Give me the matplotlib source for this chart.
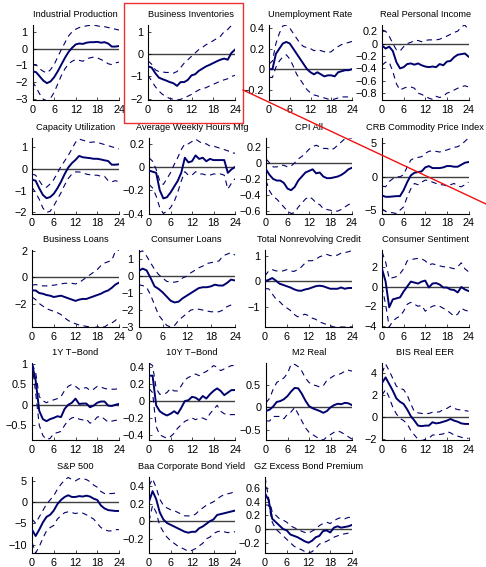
import matplotlib
matplotlib.use("Agg")
import matplotlib.pyplot as plt
from matplotlib.ticker import FuncFormatter
from matplotlib.lines import Line2D
from matplotlib.patches import Rectangle
import numpy as np

plt.rcParams['font.family'] = ['Liberation Sans', 'DejaVu Sans']

horizon = np.arange(25)
xticks = [0, 6, 12, 18, 24]

titles = ["Industrial Production", "Business Inventories", "Unemployment Rate", "Real Personal Income",
          "Capacity Utilization", "Average Weekly Hours Mfg", "CPI All", "CRB Commodity Price Index",
          "Business Loans", "Consumer Loans", "Total Nonrevolving Credit", "Consumer Sentiment",
          "1Y T\u2212Bond", "10Y T\u2212Bond", "M2 Real", "BIS Real EER",
          "S&P 500", "Baa Corporate Bond Yield", "GZ Excess Bond Premium"]

# impulse responses: median and upper / lower bands
ip_mid = [-1.35, -1.4, -1.65, -1.9, -2.05, -1.95, -1.7, -1.35, -0.95, -0.55, -0.2, 0.05, 0.25, 0.3, 0.28, 0.35, 0.38, 0.38, 0.4, 0.35, 0.38, 0.3, 0.12, 0.12, 0.15]
ip_hi = [-0.95, -0.95, -1.2, -1.35, -1.45, -1.25, -0.95, -0.5, -0.05, 0.35, 0.75, 1.0, 1.15, 1.25, 1.3, 1.35, 1.38, 1.4, 1.35, 1.3, 1.3, 1.25, 1.2, 1.15, 1.1]
ip_lo = [-1.95, -2.3, -2.7, -3.0, -3.1, -2.95, -2.6, -2.1, -1.6, -1.2, -0.9, -0.75, -0.65, -0.7, -0.75, -0.6, -0.55, -0.5, -0.55, -0.65, -0.75, -0.9, -0.95, -0.85, -0.8]

bi_mid = [-0.55, -0.6, -0.85, -1.05, -1.12, -1.18, -1.25, -1.3, -1.42, -1.25, -1.25, -1.15, -0.95, -0.9, -0.75, -0.65, -0.55, -0.48, -0.4, -0.32, -0.25, -0.2, -0.25, 0.05, 0.2]
bi_hi = [-0.3, -0.45, -0.7, -0.78, -0.8, -0.82, -0.82, -0.85, -0.78, -0.6, -0.4, -0.25, -0.1, 0.05, 0.2, 0.3, 0.42, 0.5, 0.6, 0.7, 0.8, 1.0, 1.1, 1.28, 1.3]
bi_lo = [-0.95, -1.2, -1.45, -1.65, -1.8, -1.9, -1.98, -2.02, -2.05, -2.02, -1.95, -1.88, -1.8, -1.7, -1.6, -1.55, -1.5, -1.42, -1.35, -1.28, -1.2, -1.15, -1.1, -1.0, -0.95]

ur_mid = [0.0, 0.0, 0.15, 0.2, 0.25, 0.265, 0.25, 0.2, 0.15, 0.1, 0.05, 0.0, -0.03, -0.05, -0.03, -0.05, -0.07, -0.06, -0.06, -0.07, -0.03, -0.02, -0.01, -0.01, 0.0]
ur_hi = [0.05, 0.08, 0.25, 0.35, 0.42, 0.43, 0.4, 0.35, 0.3, 0.25, 0.22, 0.21, 0.2, 0.18, 0.19, 0.18, 0.17, 0.16, 0.17, 0.2, 0.22, 0.24, 0.25, 0.26, 0.27]
ur_lo = [-0.08, -0.08, 0.02, 0.08, 0.12, 0.14, 0.1, 0.03, -0.05, -0.1, -0.15, -0.2, -0.23, -0.25, -0.26, -0.27, -0.28, -0.29, -0.3, -0.29, -0.28, -0.27, -0.27, -0.27, -0.27]

rpi_mid = [-0.03, -0.08, -0.05, -0.12, -0.3, -0.4, -0.38, -0.33, -0.32, -0.34, -0.32, -0.35, -0.37, -0.38, -0.37, -0.38, -0.33, -0.35, -0.29, -0.28, -0.22, -0.18, -0.17, -0.16, -0.21]
rpi_hi = [0.22, 0.2, 0.12, 0.0, -0.1, -0.12, -0.05, 0.0, 0.02, 0.05, 0.05, 0.03, 0.05, 0.06, 0.06, 0.06, 0.07, 0.1, 0.12, 0.15, 0.18, 0.2, 0.27, 0.3, 0.22]
rpi_lo = [-0.35, -0.3, -0.3, -0.45, -0.65, -0.75, -0.72, -0.7, -0.7, -0.72, -0.8, -0.82, -0.85, -0.88, -0.9, -0.85, -0.87, -0.85, -0.8, -0.78, -0.75, -0.72, -0.7, -0.68, -0.7]

cu_mid = [-0.5, -0.55, -0.9, -1.2, -1.35, -1.3, -1.15, -0.9, -0.6, -0.25, 0.05, 0.25, 0.4, 0.58, 0.52, 0.5, 0.48, 0.45, 0.45, 0.42, 0.38, 0.35, 0.18, 0.18, 0.2]
cu_hi = [-0.25, -0.3, -0.55, -0.8, -0.85, -0.7, -0.5, -0.2, 0.1, 0.35, 0.6, 0.9, 1.2, 1.35, 1.3, 1.25, 1.2, 1.22, 1.2, 1.15, 1.1, 1.05, 1.0, 0.95, 0.9]
cu_lo = [-0.85, -1.1, -1.4, -1.8, -2.0, -1.95, -1.7, -1.4, -1.1, -0.75, -0.45, -0.25, -0.15, -0.15, -0.2, -0.25, -0.28, -0.3, -0.3, -0.35, -0.35, -0.55, -0.6, -0.55, -0.6]

awh_mid = [-0.03, -0.04, -0.05, -0.2, -0.27, -0.26, -0.22, -0.17, -0.12, -0.05, 0.08, 0.04, 0.05, 0.1, 0.07, 0.08, 0.05, 0.07, 0.06, 0.06, 0.06, 0.06, -0.05, -0.02, 0.0]
awh_hi = [0.08, 0.05, -0.02, -0.12, -0.15, -0.1, -0.05, 0.02, 0.08, 0.15, 0.2, 0.2, 0.22, 0.24, 0.22, 0.2, 0.2, 0.18, 0.18, 0.17, 0.16, 0.15, 0.14, 0.12, 0.12]
awh_lo = [-0.15, -0.18, -0.25, -0.35, -0.4, -0.38, -0.35, -0.3, -0.22, -0.12, -0.04, -0.07, -0.07, -0.04, -0.06, -0.06, -0.07, -0.07, -0.06, -0.06, -0.06, -0.07, -0.19, -0.14, -0.1]

cpi_mid = [-0.08, -0.15, -0.2, -0.22, -0.22, -0.25, -0.32, -0.34, -0.3, -0.22, -0.17, -0.12, -0.1, -0.08, -0.13, -0.12, -0.17, -0.19, -0.19, -0.18, -0.17, -0.15, -0.12, -0.08, -0.06]
cpi_hi = [0.05, 0.0, -0.05, -0.05, -0.03, -0.03, -0.05, -0.04, 0.0, 0.05, 0.08, 0.12, 0.17, 0.2, 0.22, 0.2, 0.18, 0.18, 0.16, 0.18, 0.22, 0.26, 0.3, 0.31, 0.31]
cpi_lo = [-0.22, -0.35, -0.42, -0.45, -0.5, -0.55, -0.6, -0.63, -0.62, -0.55, -0.5, -0.45, -0.42, -0.45, -0.5, -0.52, -0.57, -0.58, -0.59, -0.6, -0.6, -0.58, -0.55, -0.52, -0.5]

crb_mid = [-2.8, -3.0, -3.0, -2.95, -2.9, -2.9, -2.0, -0.8, 0.2, 0.6, 0.7, 0.8, 1.4, 1.6, 1.3, 1.3, 1.3, 1.4, 1.6, 1.6, 1.5, 1.5, 1.8, 2.1, 2.2]
crb_hi = [-1.4, -1.5, -0.7, -0.3, 0.0, 0.0, 0.3, 1.5, 2.5, 2.8, 2.9, 3.0, 3.5, 3.8, 3.9, 3.8, 3.7, 3.9, 4.0, 4.2, 4.4, 4.5, 4.8, 5.3, 5.8]
crb_lo = [-4.8, -5.2, -5.3, -5.4, -5.5, -5.0, -4.5, -3.0, -1.8, -1.0, -1.2, -0.8, -0.5, -0.6, -0.8, -1.0, -1.2, -1.2, -1.4, -1.2, -1.0, -1.4, -1.5, -1.2, -0.8]

bl_mid = [-1.0, -1.0, -1.2, -1.25, -1.35, -1.4, -1.5, -1.45, -1.4, -1.5, -1.6, -1.7, -1.8, -1.7, -1.65, -1.65, -1.55, -1.45, -1.35, -1.25, -1.1, -1.0, -0.8, -0.55, -0.4]
bl_hi = [-0.6, -0.55, -0.6, -0.65, -0.65, -0.6, -0.6, -0.55, -0.5, -0.45, -0.45, -0.45, -0.5, -0.4, -0.2, 0.0, 0.2, 0.4, 0.6, 0.9, 1.1, 1.2, 1.3, 2.0, 2.1]
bl_lo = [-1.5, -1.7, -2.0, -2.2, -2.4, -2.5, -2.6, -2.7, -2.85, -3.1, -3.3, -3.45, -3.55, -3.65, -3.7, -3.75, -3.8, -3.85, -3.8, -3.75, -3.8, -3.6, -3.5, -3.3, -3.0]

cl_mid = [0.3, 0.45, 0.35, -0.1, -0.6, -0.75, -0.95, -1.2, -1.45, -1.55, -1.5, -1.3, -1.15, -1.0, -0.85, -0.7, -0.65, -0.65, -0.6, -0.5, -0.55, -0.55, -0.4, -0.2, -0.25]
cl_hi = [1.4, 1.5, 1.2, 0.8, 0.4, 0.1, -0.1, -0.3, -0.35, -0.35, -0.3, -0.1, 0.0, 0.2, 0.35, 0.5, 0.6, 0.75, 0.8, 0.85, 0.9, 1.2, 1.3, 1.4, 1.25]
cl_lo = [-0.5, -0.55, -0.65, -1.1, -1.7, -2.3, -2.6, -2.9, -3.0, -2.9, -2.6, -2.4, -2.2, -2.0, -1.95, -1.95, -2.0, -2.05, -2.1, -2.1, -2.1, -2.0, -1.8, -1.7, -1.6]

tnc_mid = [0.0, 0.05, 0.12, 0.02, -0.1, -0.15, -0.2, -0.25, -0.32, -0.37, -0.38, -0.33, -0.3, -0.25, -0.2, -0.18, -0.2, -0.25, -0.3, -0.3, -0.3, -0.25, -0.3, -0.27, -0.27]
tnc_hi = [0.2, 0.4, 0.45, 0.4, 0.4, 0.4, 0.45, 0.4, 0.38, 0.45, 0.55, 0.7, 0.8, 0.8, 0.85, 0.95, 1.0, 1.05, 1.0, 1.0, 1.02, 1.1, 1.12, 1.15, 1.2]
tnc_lo = [-0.3, -0.3, -0.5, -0.7, -0.8, -0.95, -1.05, -1.15, -1.3, -1.4, -1.35, -1.3, -1.35, -1.45, -1.5, -1.6, -1.65, -1.7, -1.75, -1.8, -1.8, -1.8, -1.8, -1.78, -1.8]

cs_mid = [1.8, 0.5, -2.1, -1.3, -1.2, -1.1, -0.5, 0.0, 0.5, 0.4, 0.3, 0.5, 0.6, -0.1, 0.3, 0.35, 0.2, -0.1, -0.1, -0.3, -0.35, -0.6, -0.05, -0.3, -0.45]
cs_hi = [3.5, 2.5, 0.8, 0.9, 1.0, 1.3, 1.8, 2.6, 2.7, 2.8, 2.85, 2.8, 2.6, 2.2, 2.3, 2.2, 2.1, 2.0, 2.0, 1.9, 1.8, 2.0, 2.4, 1.8, 1.5]
cs_lo = [0.0, -1.8, -4.1, -3.5, -3.2, -3.0, -2.5, -1.8, -1.6, -1.8, -2.0, -1.9, -2.5, -2.2, -2.0, -1.9, -2.0, -2.2, -2.4, -2.7, -3.0, -2.8, -2.2, -2.4, -2.5]

t1_mid = [1.0, 0.6, -0.15, -0.35, -0.4, -0.35, -0.32, -0.28, -0.3, -0.1, 0.0, 0.05, 0.15, 0.02, 0.03, 0.03, -0.06, -0.02, 0.05, 0.08, 0.08, -0.02, -0.03, 0.0, 0.02]
t1_hi = [1.0, 0.8, 0.2, 0.1, 0.05, 0.1, 0.12, 0.15, 0.2, 0.35, 0.45, 0.5, 0.45, 0.38, 0.4, 0.42, 0.35, 0.38, 0.45, 0.43, 0.4, 0.38, 0.38, 0.38, 0.4]
t1_lo = [1.0, 0.3, -0.5, -0.75, -0.85, -0.82, -0.7, -0.68, -0.65, -0.5, -0.38, -0.32, -0.3, -0.35, -0.37, -0.35, -0.45, -0.4, -0.3, -0.28, -0.35, -0.42, -0.4, -0.38, -0.38]

t10_mid = [0.3, 0.3, -0.05, -0.12, -0.15, -0.17, -0.15, -0.12, -0.15, -0.08, 0.0, 0.01, 0.05, 0.04, 0.01, 0.06, 0.03, 0.08, 0.12, 0.15, 0.12, 0.07, 0.1, 0.13, 0.13]
t10_hi = [0.45, 0.42, 0.15, 0.08, 0.08, 0.1, 0.15, 0.12, 0.12, 0.18, 0.25, 0.28, 0.3, 0.32, 0.3, 0.33, 0.35, 0.38, 0.42, 0.4, 0.36, 0.38, 0.4, 0.42, 0.42]
t10_lo = [0.15, 0.1, -0.3, -0.4, -0.42, -0.44, -0.42, -0.38, -0.32, -0.28, -0.24, -0.22, -0.2, -0.22, -0.2, -0.2, -0.22, -0.15, -0.1, -0.05, -0.12, -0.15, -0.16, -0.16, -0.16]

m2_mid = [-0.08, -0.05, 0.02, 0.12, 0.14, 0.18, 0.25, 0.35, 0.43, 0.42, 0.3, 0.15, 0.03, -0.02, -0.05, -0.08, -0.12, -0.08, 0.0, 0.05, 0.08, 0.07, 0.1, 0.09, 0.05]
m2_hi = [0.1, 0.2, 0.4, 0.55, 0.6, 0.65, 0.75, 0.95, 0.95, 0.9, 0.8, 0.65, 0.55, 0.5, 0.48, 0.45, 0.48, 0.6, 0.65, 0.7, 0.72, 0.75, 0.8, 0.82, 0.8]
m2_lo = [-0.3, -0.3, -0.2, -0.2, -0.2, -0.25, -0.15, -0.1, 0.0, -0.15, -0.3, -0.45, -0.55, -0.6, -0.65, -0.7, -0.72, -0.65, -0.6, -0.55, -0.52, -0.55, -0.6, -0.65, -0.7]

eer_mid = [3.1, 3.6, 3.0, 2.4, 1.7, 1.4, 1.2, 0.7, 0.1, -0.3, -0.75, -0.8, -0.75, -0.75, -0.45, -0.55, -0.5, -0.4, -0.3, -0.15, -0.3, -0.4, -0.55, -0.6, -0.6]
eer_hi = [4.0, 4.8, 4.2, 3.5, 2.8, 2.6, 2.5, 2.0, 1.2, 0.5, 0.4, 0.35, 0.3, 0.35, 0.45, 0.45, 0.5, 0.7, 0.8, 1.0, 0.8, 0.7, 0.65, 0.6, 0.55]
eer_lo = [2.0, 2.5, 1.8, 0.9, 0.3, -0.1, -0.3, -0.6, -1.2, -1.6, -2.0, -2.1, -2.0, -1.9, -1.6, -1.6, -1.55, -1.5, -1.3, -1.4, -1.6, -1.7, -1.8, -1.9, -1.9]

sp_mid = [-6.5, -8.0, -6.5, -4.8, -3.5, -3.0, -2.0, -0.5, 0.5, 1.2, 1.6, 1.2, 1.2, 1.4, 1.3, 1.5, 1.3, 0.8, 0.5, -0.8, -1.5, -1.9, -2.0, -2.1, -2.1]
sp_hi = [-4.0, -5.0, -3.5, -2.0, -0.5, 0.5, 1.5, 3.0, 4.2, 5.2, 5.8, 5.3, 5.0, 5.5, 5.5, 5.3, 4.8, 4.0, 3.5, 2.5, 2.0, 2.0, 2.0, 2.1, 2.0]
sp_lo = [-9.5, -12.0, -10.5, -8.5, -6.8, -6.0, -5.5, -4.0, -3.2, -2.5, -2.3, -2.5, -2.7, -2.5, -2.6, -3.0, -3.5, -4.0, -5.0, -6.0, -6.5, -6.8, -6.8, -6.5, -6.5]

baa_mid = [0.22, 0.34, 0.25, 0.1, 0.02, -0.02, -0.04, -0.06, -0.08, -0.1, -0.12, -0.13, -0.12, -0.12, -0.08, -0.06, -0.03, 0.0, 0.02, 0.07, 0.08, 0.09, 0.1, 0.11, 0.12]
baa_hi = [0.4, 0.48, 0.38, 0.25, 0.18, 0.15, 0.13, 0.12, 0.1, 0.08, 0.06, 0.06, 0.06, 0.08, 0.12, 0.15, 0.18, 0.2, 0.22, 0.25, 0.28, 0.3, 0.31, 0.32, 0.34]
baa_lo = [0.0, 0.18, 0.1, -0.05, -0.12, -0.18, -0.22, -0.25, -0.28, -0.3, -0.32, -0.34, -0.33, -0.31, -0.28, -0.25, -0.2, -0.18, -0.14, -0.12, -0.11, -0.12, -0.13, -0.12, -0.12]

gz_mid = [0.52, 0.42, 0.15, 0.1, 0.05, 0.0, -0.02, -0.08, -0.1, -0.12, -0.15, -0.18, -0.2, -0.17, -0.12, -0.1, -0.03, -0.02, -0.05, 0.02, 0.04, 0.02, 0.03, 0.04, 0.06]
gz_hi = [0.76, 0.45, 0.25, 0.2, 0.15, 0.13, 0.1, 0.05, 0.02, 0.0, -0.03, -0.05, -0.06, -0.03, 0.0, 0.05, 0.08, 0.1, 0.08, 0.12, 0.15, 0.17, 0.15, 0.17, 0.17]
gz_lo = [0.35, 0.35, 0.1, 0.0, -0.05, -0.1, -0.15, -0.2, -0.25, -0.28, -0.3, -0.33, -0.35, -0.33, -0.28, -0.22, -0.2, -0.18, -0.15, -0.12, -0.1, -0.08, -0.07, -0.06, -0.05]

yticks = [[-3, -2, -1, 0, 1], [-2, -1, 0, 1], [-0.2, 0, 0.2, 0.4], [-0.8, -0.6, -0.4, -0.2, 0, 0.2],
          [-2, -1, 0, 1], [-0.4, -0.2, 0, 0.2], [-0.6, -0.4, -0.2, 0, 0.2], [-5, 0, 5],
          [-2, 0, 2], [-3, -2, -1, 0, 1], [-1, 0, 1], [-4, -2, 0, 2],
          [-0.5, 0, 0.5, 1], [-0.4, -0.2, 0, 0.2, 0.4], [-0.5, 0, 0.5], [-2, 0, 2, 4],
          [-10, -5, 0, 5], [-0.2, 0, 0.2, 0.4], [-0.2, 0, 0.2, 0.4, 0.6]]

series = [(ip_mid, ip_hi, ip_lo), (bi_mid, bi_hi, bi_lo), (ur_mid, ur_hi, ur_lo), (rpi_mid, rpi_hi, rpi_lo),
          (cu_mid, cu_hi, cu_lo), (awh_mid, awh_hi, awh_lo), (cpi_mid, cpi_hi, cpi_lo), (crb_mid, crb_hi, crb_lo),
          (bl_mid, bl_hi, bl_lo), (cl_mid, cl_hi, cl_lo), (tnc_mid, tnc_hi, tnc_lo), (cs_mid, cs_hi, cs_lo),
          (t1_mid, t1_hi, t1_lo), (t10_mid, t10_hi, t10_lo), (m2_mid, m2_hi, m2_lo), (eer_mid, eer_hi, eer_lo),
          (sp_mid, sp_hi, sp_lo), (baa_mid, baa_hi, baa_lo), (gz_mid, gz_hi, gz_lo)]

# axis limits (tight to the bands)
ylims = [(-3.05, 1.4), (-2.05, 1.3), (-0.3, 0.43), (-0.91, 0.3),
         (-2.05, 1.4), (-0.4, 0.25), (-0.63, 0.31), (-5.5, 5.8),
         (-3.8, 2.1), (-3.0, 1.55), (-1.8, 1.22), (-4.1, 3.7),
         (-0.86, 1.02), (-0.46, 0.45), (-0.72, 0.98), (-2.05, 4.9),
         (-12.0, 5.9), (-0.36, 0.5), (-0.35, 0.76)]

# panel frames in pixels: left, right, top, bottom
W, H = 486, 567
lefts = [[32.5, 148, 269, 382], [32, 149, 266, 382], [32, 138.5, 265, 382], [32, 149, 266, 382], [32, 149, 265]]
rights = [119, 235, 352, 468.5]
rows = [(25, 100), (138, 213.5), (250, 327), (363, 440), (477, 553)]

NAVY = '#00006e'


def fmt(v, pos):
    s = '{:g}'.format(round(v, 6))
    return s.replace('-', '\u2212')


fig = plt.figure(figsize=(W / 100, H / 100), dpi=100)

k = 0
for r, (top, bot) in enumerate(rows):
    for c, left in enumerate(lefts[r]):
        right = rights[c]
        ax = fig.add_axes([left / W, 1 - bot / H, (right - left) / W, (bot - top) / H])
        mid, hi, lo = series[k]
        ax.axhline(0, color='#404040', lw=1.0, zorder=1)
        ax.plot(horizon, hi, color=NAVY, lw=0.8, ls=(0, (5, 4)), zorder=2)
        ax.plot(horizon, lo, color=NAVY, lw=0.8, ls=(0, (5, 4)), zorder=2)
        ax.plot(horizon, mid, color=NAVY, lw=1.4, zorder=3)
        ax.set_xlim(0, 24)
        ax.set_ylim(*ylims[k])
        ax.set_xticks(xticks)
        ax.set_yticks(yticks[k])
        ax.yaxis.set_major_formatter(FuncFormatter(fmt))
        ax.tick_params(direction='in', length=2, width=0.5, labelsize=7.8, pad=3.5, colors='black')
        for side in ('top', 'right'):
            ax.spines[side].set_visible(False)
        for side in ('left', 'bottom'):
            ax.spines[side].set_linewidth(0.8)
        ax.set_title(titles[k], fontsize=6.7, pad=5.5)
        ax.patch.set_alpha(0)
        k += 1

# highlight box and pointer
fig.patches.append(Rectangle((124 / W, 1 - 123 / H), (243 - 124) / W, (123 - 3) / H,
                             transform=fig.transFigure, fill=False, edgecolor='#f03030', lw=1.0))
fig.lines.append(Line2D([243 / W, 486 / W], [1 - 90 / H, 1 - 204 / H],
                        transform=fig.transFigure, color='#f01010', lw=1.0))

fig.savefig('out.png', dpi=100)
